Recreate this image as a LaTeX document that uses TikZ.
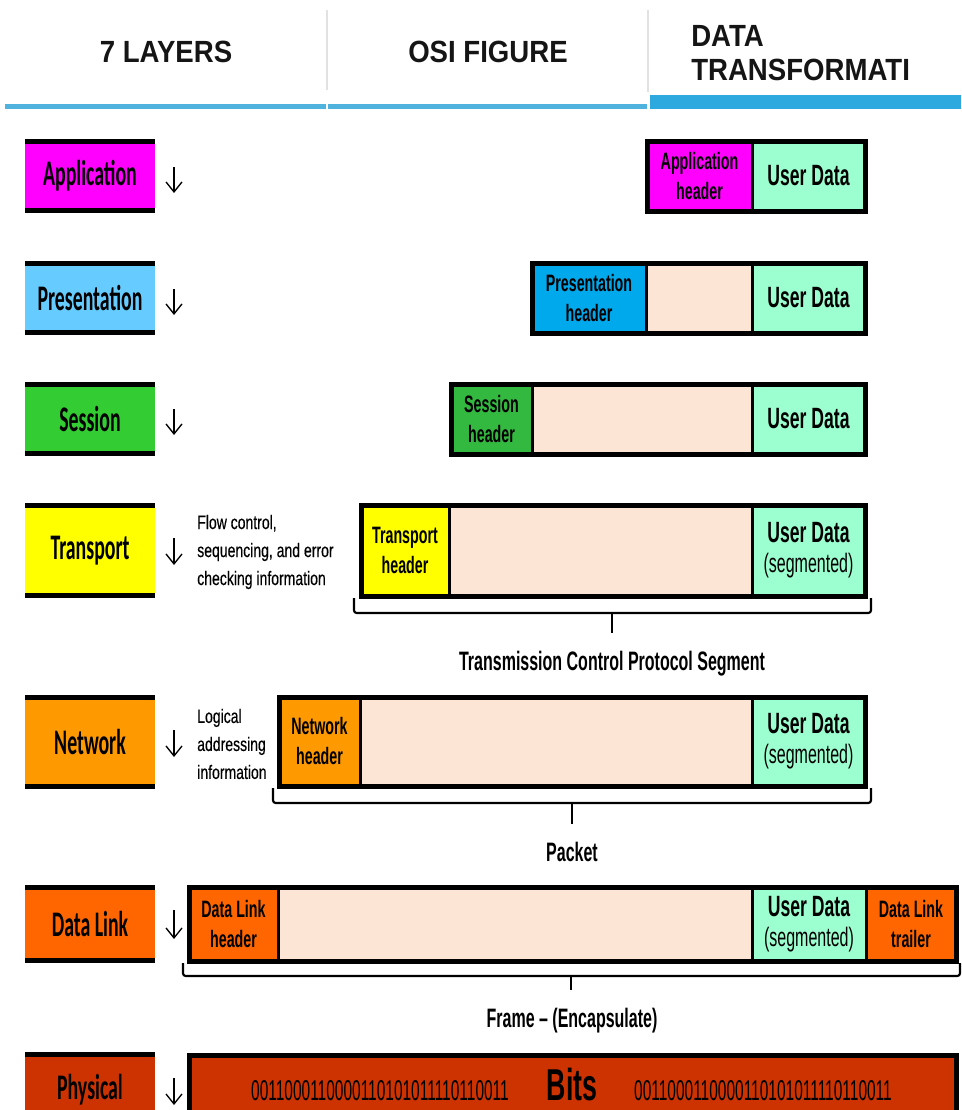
\documentclass[tikz,border=0pt]{standalone}
\usepackage{fontspec}
\usetikzlibrary{arrows.meta}
\setmainfont{Liberation Sans}
\newfontfamily\headfont{Liberation Sans}[FakeStretch=0.9]
\newfontfamily\narrowfont{Liberation Sans}[FakeStretch=0.6]
\newfontfamily\digitfont{Liberation Sans}[FakeStretch=0.54]
\newfontfamily\notefont{Liberation Sans}[FakeStretch=0.72,FakeBold=0.3]
\newfontfamily\layerfont{Carlito}[FakeStretch=0.55]

\definecolor{appC}{HTML}{FF00FF}
\definecolor{presL}{HTML}{66CCFF}
\definecolor{presR}{HTML}{00A8EC}
\definecolor{sessL}{HTML}{33CC33}
\definecolor{sessR}{HTML}{33B840}
\definecolor{transC}{HTML}{FFFF00}
\definecolor{netC}{HTML}{FF9900}
\definecolor{dlC}{HTML}{FF6600}
\definecolor{physC}{HTML}{CC3300}
\definecolor{padC}{HTML}{FDE5D6}
\definecolor{udC}{HTML}{9CFFD0}
\definecolor{tabline}{HTML}{4FB3DE}
\definecolor{tabactive}{HTML}{2DA9DF}
\definecolor{sepgray}{HTML}{E2E2E2}
\definecolor{inkC}{HTML}{151515}

% layer box on the left: coloured fill with black bars on top and bottom
\newcommand\layerbox[5]{%
  \node[layerbox,fill=#2,minimum height={(#4-#3)*0.75pt},anchor=north west] (#1) at (25,#3) {\raisebox{-2pt}{#5}};}
% one cell of a protocol data unit
\newcommand\pducell[7]{%
  \node[pducell,fill=#2,minimum width={(#4-#3)*0.75pt},minimum height={(#6-#5)*0.75pt},anchor=north west] (#1) at (#3,#5) {#7};}
% small downward arrow beside a layer
\newcommand\layerarrow[3]{%
  \coordinate (#1s) at (174,#2); \coordinate (#1e) at (174,#3);
  \draw[downtick] (#1s) -- (#1e);}
\newcommand\udtext{\fontsize{22}{27}\selectfont}
\newcommand\segtext{\mdseries\fontsize{20}{27}\selectfont}

\begin{document}
\begin{tikzpicture}[x=0.75pt,y=-0.75pt,
  headtxt/.style={inner sep=0,text=inkC,font=\headfont\bfseries\fontsize{23}{27}\selectfont},
  layerbox/.style={rectangle,inner sep=0,outer sep=0,minimum width={130*0.75pt},
    font=\layerfont\bfseries\fontsize{27}{30}\selectfont,
    path picture={
      \fill[black] (path picture bounding box.north west) rectangle ([yshift=-3.75pt]path picture bounding box.north east);
      \fill[black] (path picture bounding box.south west) rectangle ([yshift=3.75pt]path picture bounding box.south east);}},
  pducell/.style={rectangle,inner sep=0,outer sep=0,align=center,
    font=\narrowfont\bfseries\fontsize{17.8}{22.5}\selectfont},
  framebox/.style={draw=black,line width=3.75pt},
  divider/.style={draw=black,line width=2.25pt},
  downtick/.style={line width=1pt,-{Straight Barb[length=7.5pt,width=12pt,line width=1pt]}},
  bracket/.style={draw=black,line width=1.6pt,rounded corners=2pt},
  tick/.style={draw=black,line width=1.6pt},
  bracelbl/.style={inner sep=0,font=\narrowfont\bfseries\fontsize{20}{24}\selectfont},
  note/.style={inner sep=0,align=left,font=\notefont\fontsize{14.6}{21}\selectfont}]
\useasboundingbox (0,0) rectangle (961,1110);
\clip (0,0) rectangle (961,1110);

% ---- tab header ----
\draw[sepgray,line width=0.9pt] (327,10) -- (327,90);
\draw[sepgray,line width=0.9pt] (648,10) -- (648,92);
\fill[tabline] (5,104) rectangle (326,109);
\fill[tabline] (328,104) rectangle (647,109);
\fill[tabactive] (650,95) rectangle (961,109);
\node[headtxt,anchor=base] (tab1) at (166,62) {7 LAYERS};
\node[headtxt,anchor=base] (tab2) at (488,62) {OSI FIGURE};
\node[headtxt,anchor=base west] (tab3a) at (691,46) {DATA};
\node[headtxt,anchor=base west] (tab3b) at (691,80) {TRANSFORMATI};

% ---- the seven layers ----
\layerbox{lApp}{appC}{139}{213}{Application}
\layerbox{lPres}{presL}{261}{335}{Presentation}
\layerbox{lSess}{sessL}{382}{456}{Session}
\layerbox{lTrans}{transC}{503}{598}{Transport}
\layerbox{lNet}{netC}{695}{789}{Network}
\layerbox{lDL}{dlC}{885}{963}{Data Link}
\layerbox{lPhys}{physC}{1052}{1128}{Physical}

\layerarrow{aApp}{167}{193}
\layerarrow{aPres}{289}{315}
\layerarrow{aSess}{409}{435}
\layerarrow{aTrans}{538}{565}
\layerarrow{aNet}{730}{757}
\layerarrow{aDL}{910}{939}
\layerarrow{aPhys}{1078}{1105}

% ---- side notes ----
\node[note,anchor=west] (nTrans) at (197,552) {Flow control,\\sequencing, and error\\checking information};
\node[note,anchor=west] (nNet) at (197,744) {Logical\\addressing\\information};

% ---- application ----
\pducell{cAppH}{appC}{647}{752}{141}{211}{Application\\header}
\pducell{cAppU}{udC}{752}{865}{141}{211}{\udtext User Data}
\draw[framebox] (cAppH.north west) rectangle (cAppU.south east);
\draw[divider] (cAppH.north east) -- (cAppH.south east);

% ---- presentation ----
\pducell{cPresH}{presR}{532}{646}{263}{333}{Presentation\\header}
\pducell{cPresP}{padC}{646}{752}{263}{333}{}
\pducell{cPresU}{udC}{752}{865}{263}{333}{\udtext User Data}
\draw[framebox] (cPresH.north west) rectangle (cPresU.south east);
\draw[divider] (cPresH.north east) -- (cPresH.south east);
\draw[divider] (cPresP.north east) -- (cPresP.south east);

% ---- session ----
\pducell{cSessH}{sessR}{451}{532}{384}{454}{Session\\header}
\pducell{cSessP}{padC}{532}{752}{384}{454}{}
\pducell{cSessU}{udC}{752}{865}{384}{454}{\udtext User Data}
\draw[framebox] (cSessH.north west) rectangle (cSessU.south east);
\draw[divider] (cSessH.north east) -- (cSessH.south east);
\draw[divider] (cSessP.north east) -- (cSessP.south east);

% ---- transport ----
\pducell{cTransH}{transC}{361}{449}{505}{596}{Transport\\header}
\pducell{cTransP}{padC}{449}{752}{505}{596}{}
\pducell{cTransU}{udC}{752}{865}{505}{596}{\udtext User Data\\{\segtext (segmented)}}
\draw[framebox] (cTransH.north west) rectangle (cTransU.south east);
\draw[divider] (cTransH.north east) -- (cTransH.south east);
\draw[divider] (cTransP.north east) -- (cTransP.south east);
\coordinate (bTransL) at (354,598);
\coordinate (bTransR) at (871,598);
\coordinate (bTransM) at (612,613);
\draw[bracket] (bTransL) |- (bTransR |- bTransM) -- (bTransR);
\draw[tick] (bTransM) -- ++(0,20);
\node[bracelbl,anchor=base] (lblTrans) at (612,670) {Transmission Control Protocol Segment};

% ---- network ----
\pducell{cNetH}{netC}{279}{360}{697}{786}{Network\\header}
\pducell{cNetP}{padC}{360}{752}{697}{786}{}
\pducell{cNetU}{udC}{752}{865}{697}{786}{\udtext User Data\\{\segtext (segmented)}}
\draw[framebox] (cNetH.north west) rectangle (cNetU.south east);
\draw[divider] (cNetH.north east) -- (cNetH.south east);
\draw[divider] (cNetP.north east) -- (cNetP.south east);
\coordinate (bNetL) at (273,788);
\coordinate (bNetR) at (871,788);
\coordinate (bNetM) at (572,803);
\draw[bracket] (bNetL) |- (bNetR |- bNetM) -- (bNetR);
\draw[tick] (bNetM) -- ++(0,21);
\node[bracelbl,anchor=base] (lblNet) at (572,861) {Packet};

% ---- data link ----
\pducell{cDLH}{dlC}{189}{278}{887}{961}{Data Link\\header}
\pducell{cDLP}{padC}{278}{752}{887}{961}{}
\pducell{cDLU}{udC}{752}{866}{887}{961}{\udtext User Data\\{\segtext (segmented)}}
\pducell{cDLT}{dlC}{866}{956}{887}{961}{Data Link\\trailer}
\draw[framebox] (cDLH.north west) rectangle (cDLT.south east);
\draw[divider] (cDLH.north east) -- (cDLH.south east);
\draw[divider] (cDLP.north east) -- (cDLP.south east);
\draw[divider] (cDLU.north east) -- (cDLU.south east);
\coordinate (bDLL) at (183,963);
\coordinate (bDLR) at (960,963);
\coordinate (bDLM) at (571,976);
\draw[bracket] (bDLL) |- (bDLR |- bDLM) -- (bDLR);
\draw[tick] (bDLM) -- ++(0,14);
\node[bracelbl,anchor=base] (lblDL) at (572,1027) {Frame – (Encapsulate)};

% ---- physical ----
\pducell{cPhys}{physC}{189}{956}{1055}{1135}{}
\draw[framebox] (cPhys.north west) rectangle (cPhys.south east);
\node[inner sep=0,anchor=base,font=\digitfont\fontsize{21.5}{24}\selectfont] (bitsL) at (380,1100) {0011000110000110101011110110011};
\node[inner sep=0,anchor=base,font=\narrowfont\bfseries\fontsize{33.5}{36}\selectfont] (bitsM) at (572,1100) {Bits};
\node[inner sep=0,anchor=base,font=\digitfont\fontsize{21.5}{24}\selectfont] (bitsR) at (763,1100) {0011000110000110101011110110011};
\end{tikzpicture}
\end{document}
